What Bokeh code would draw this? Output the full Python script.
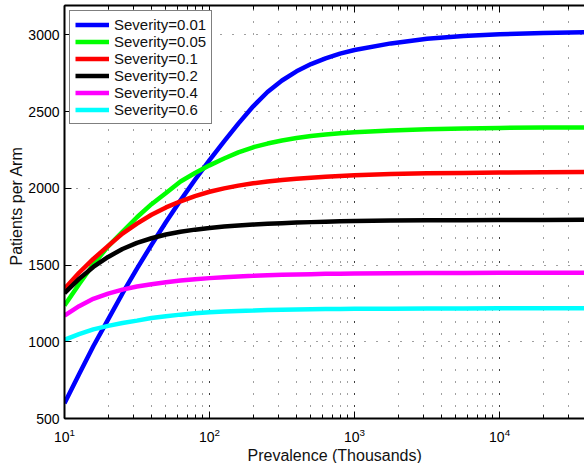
from bokeh.plotting import figure
from bokeh.models import Range1d, LogAxis, LogTicker, SingleIntervalTicker, CustomJSTickFormatter, Title
from bokeh.embed import file_html
from bokeh.resources import INLINE

# ---- data ----
prevalence = [10, 12.6, 15.8, 20, 25.1, 31.6, 39.8, 50.1, 63.1, 79.4,
              100, 126, 158, 200, 251, 316, 398, 501, 631, 794,
              1000, 1780, 3160, 5620, 10000, 20000, 38500]

sev_001 = [600, 789, 971, 1146, 1315, 1477, 1632, 1781, 1922, 2056,
           2184, 2306, 2422, 2535, 2628, 2703, 2763, 2810, 2847, 2878,
           2902, 2945, 2975, 2993, 3005, 3013, 3018]
sev_005 = [1237, 1375, 1505, 1622, 1717, 1812, 1897, 1970, 2045, 2100,
           2150, 2195, 2235, 2268, 2292, 2312, 2328, 2341, 2351, 2359,
           2366, 2378, 2386, 2391, 2394, 2396, 2397]
sev_01 = [1345, 1450, 1540, 1625, 1705, 1770, 1828, 1876, 1916, 1950,
          1978, 2000, 2018, 2033, 2045, 2055, 2063, 2070, 2076, 2081,
          2085, 2093, 2098, 2101, 2103, 2105, 2106]
sev_02 = [1317, 1410, 1488, 1553, 1605, 1645, 1675, 1699, 1717, 1731,
          1742, 1751, 1758, 1764, 1769, 1773, 1777, 1780, 1783, 1785,
          1787, 1790, 1792, 1793, 1794, 1794, 1795]
sev_04 = [1171, 1232, 1280, 1314, 1340, 1360, 1375, 1388, 1399, 1408,
          1415, 1421, 1426, 1430, 1434, 1437, 1439, 1441, 1443, 1444,
          1445, 1447, 1448, 1449, 1450, 1450, 1450]
sev_06 = [1013, 1050, 1081, 1104, 1122, 1138, 1155, 1167, 1177, 1186,
          1192, 1197, 1201, 1204, 1207, 1209, 1211, 1212, 1213, 1214,
          1215, 1216, 1217, 1217, 1218, 1218, 1218]

series_labels = ["Severity=0.01", "Severity=0.05", "Severity=0.1",
                 "Severity=0.2", "Severity=0.4", "Severity=0.6"]
series_values = [sev_001, sev_005, sev_01, sev_02, sev_04, sev_06]
series_colors = ["#0000FF", "#00FF00", "#FF0000", "#000000", "#FF00FF", "#00FFFF"]

x_label = "Prevalence (Thousands)"
y_label = "Patients per Arm"

FONT = "Liberation Sans"

p = figure(
    width=584, height=463,
    x_axis_type="log",
    x_range=Range1d(10, 38500),
    y_range=Range1d(500, 3192),
    output_backend="svg",
    toolbar_location=None,
    min_border_left=64, min_border_right=0, min_border_top=5, min_border_bottom=0,
)
p.outline_line_color = None
p.background_fill_color = "white"
p.border_fill_color = "white"

for lab, vals, col in zip(series_labels, series_values, series_colors):
    p.line(prevalence, vals, line_color=col, line_width=4.5, legend_label=lab)

# axes
xa = p.xaxis[0]
xa.ticker = LogTicker(num_minor_ticks=10, desired_num_ticks=5)
ya = p.yaxis[0]
ya.ticker = SingleIntervalTicker(interval=500, num_minor_ticks=0)

for ax in (xa, ya):
    ax.axis_line_width = 2
    ax.axis_line_color = "black"
    ax.major_tick_in = 7
    ax.major_tick_out = 0
    ax.minor_tick_in = 4
    ax.minor_tick_out = 0
    ax.major_tick_line_color = "black"
    ax.minor_tick_line_color = "black"
    ax.major_label_text_font = FONT
    ax.major_label_text_font_size = "14px"
    ax.major_label_text_color = "black"

xa.major_label_standoff = 9
ya.major_label_standoff = 5
ya.minor_tick_line_color = None

top = LogAxis(
    ticker=LogTicker(num_minor_ticks=10, desired_num_ticks=5),
    formatter=CustomJSTickFormatter(code="return '';"),
    axis_line_width=2, axis_line_color="black",
    major_tick_in=7, major_tick_out=0, minor_tick_in=4, minor_tick_out=0,
    major_label_standoff=0,
)
p.add_layout(top, "above")

# axis titles (side titles, nudged to where the reference puts them)
xt = Title(text=x_label, align="left", offset=183, standoff=0,
           text_font=FONT, text_font_size="16px", text_font_style="normal",
           text_color="#111111")
p.add_layout(xt, "below")
yt = Title(text=y_label, align="left", offset=153, standoff=2,
           text_font=FONT, text_font_size="16px", text_font_style="normal",
           text_color="#111111")
p.add_layout(yt, "left")

# grid: dotted, minor vertical lines as well
p.xgrid.grid_line_color = "black"
p.xgrid.grid_line_alpha = 0.75
p.xgrid.grid_line_dash = "1 11"
p.xgrid.minor_grid_line_color = "black"
p.xgrid.minor_grid_line_alpha = 0.75
p.xgrid.minor_grid_line_dash = "1 11"
p.ygrid.grid_line_color = "black"
p.ygrid.grid_line_alpha = 0.75
p.ygrid.grid_line_dash = "1 11"

# legend
lg = p.legend[0]
lg.location = "top_left"
lg.margin = 5
lg.padding = 5
lg.spacing = 0
lg.glyph_width = 34
lg.glyph_height = 17
lg.label_height = 17
lg.label_standoff = 5
lg.label_text_font = FONT
lg.label_text_font_size = "15px"
lg.label_text_color = "#111111"
lg.border_line_color = "black"
lg.border_line_width = 1.5
lg.background_fill_color = "white"
lg.background_fill_alpha = 1

open("out.html", "w").write(file_html(p, INLINE))
